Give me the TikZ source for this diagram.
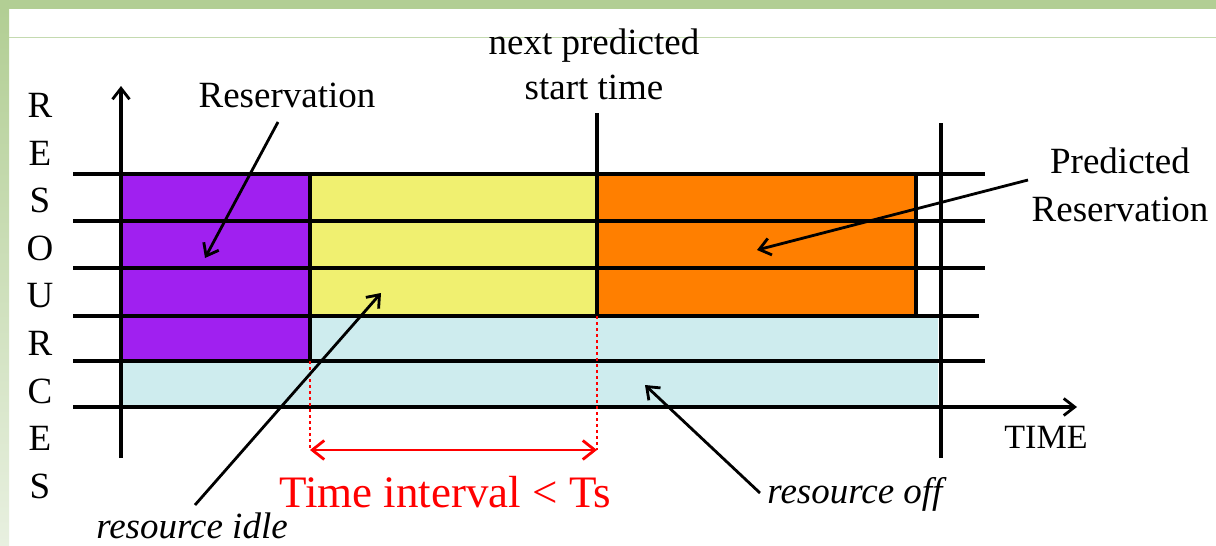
\documentclass[tikz,border=0pt]{standalone}
\usepackage{fontspec}
\setmainfont{Liberation Serif}
\usetikzlibrary{arrows.meta}
\definecolor{frameGreen}{RGB}{178,206,148}
\definecolor{frameLight}{RGB}{232,240,224}
\definecolor{ruleGreen}{RGB}{196,218,176}
\definecolor{resPurple}{RGB}{160,32,240}
\definecolor{idleYellow}{RGB}{240,240,112}
\definecolor{predOrange}{RGB}{255,127,0}
\definecolor{offCyan}{RGB}{206,236,238}
\tikzset{
  gridline/.style={line width=3.4pt},
  barb/.style={line width=2.8pt,-{Straight Barb[length=11pt,width=17pt,line width=2.8pt]}},
  lbl/.style={inner sep=0pt,font=\fontsize{37}{45}\selectfont},
  redlbl/.style={inner sep=0pt,text=red,font=\fontsize{45}{50}\selectfont},
  gap/.style={red,line width=2.4pt,dash pattern=on 3pt off 3pt},
  span/.style={red,line width=2.8pt,{Straight Barb[length=12pt,width=19pt,line width=2.8pt]}-{Straight Barb[length=12pt,width=19pt,line width=2.8pt]}}
}
\begin{document}
\begin{tikzpicture}[x=1pt,y=-1pt]
\useasboundingbox (0,0) rectangle (1216,546);
% slide frame
\fill[white] (0,0) rectangle (1216,546);
\fill[frameGreen] (0,0) rectangle (1216,9);
\shade[top color=frameGreen,bottom color=frameLight] (0,9) rectangle (9,546);
\draw[ruleGreen,line width=1pt] (9,37) -- (1216,37);

% occupied / idle / off blocks
\fill[resPurple] (121,174) rectangle (310,361);
\fill[idleYellow] (310,174) rectangle (597,316);
\fill[predOrange] (597,174) rectangle (916,316);
\fill[offCyan] (310,316) rectangle (938,361);
\fill[offCyan] (121,361) rectangle (938,407);

% resource rows
\draw[gridline] (73,174) -- (985,174);
\draw[gridline] (73,221) -- (985,221);
\draw[gridline] (73,268) -- (985,268);
\draw[gridline] (73,316) -- (979,316);
\draw[gridline] (73,361) -- (985,361);
\coordinate (t0) at (73,407);
\coordinate (t1) at (1077,407);
\draw[barb,line width=3.4pt] (t0) -- (t1);

% axes and block edges
\coordinate (r0) at (121,458);
\coordinate (r1) at (121,86);
\draw[barb,line width=3.4pt] (r0) -- (r1);
\draw[gridline] (941,123) -- (941,458);
\draw[gridline] (597,113) -- (597,316);
\draw[gridline] (310,174) -- (310,361);
\draw[gridline] (916,174) -- (916,316);

% idle interval
\coordinate (g0) at (310,450);
\coordinate (g1) at (597,450);
\draw[gap] (310,361) -- (g0);
\draw[gap] (597,316) -- (g1);
\draw[span] (g0) -- (g1);
\node[redlbl] (gaplbl) at (445,492) {Time interval < Ts};

% labels
\node[lbl,align=center] (axisR) at (40,296) {R\\[2.6pt]E\\[2.6pt]S\\[2.6pt]O\\[2.6pt]U\\[2.6pt]R\\[2.6pt]C\\[2.6pt]E\\[2.6pt]S};
\node[lbl] (reslbl) at (287,95) {Reservation};
\node[lbl,align=center] (nextlbl) at (594,64) {next predicted\\start time};
\node[lbl,align=center,font=\fontsize{37}{48}\selectfont] (predlbl) at (1120,185) {Predicted\\Reservation};
\node[lbl,font=\fontsize{37}{45}\selectfont\itshape] (idlelbl) at (192,526) {resource idle};
\node[lbl,font=\fontsize{37}{45}\selectfont\itshape] (offlbl) at (855,494) {resource off};
\node[lbl,font=\fontsize{34}{40}\selectfont] (timelbl) at (1046,437) {TIME};

% pointers
\coordinate (resA) at (278,122);
\coordinate (resB) at (205,258);
\draw[barb] (resA) -- (resB);
\coordinate (predA) at (1028,180);
\coordinate (predB) at (757,250);
\draw[barb] (predA) -- (predB);
\coordinate (idleA) at (195,505);
\coordinate (idleB) at (381,293);
\draw[barb] (idleA) -- (idleB);
\coordinate (offA) at (760,493);
\coordinate (offB) at (645,385);
\draw[barb] (offA) -- (offB);
\end{tikzpicture}
\end{document}
